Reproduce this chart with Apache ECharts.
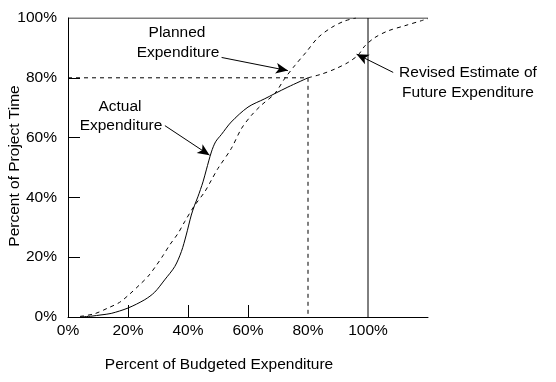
<!DOCTYPE html>
<html>
<head>
<meta charset="utf-8">
<script src="https://cdn.jsdelivr.net/npm/echarts@6/dist/echarts.min.js"></script>
<style>
html,body{margin:0;padding:0;background:#fff;}
#c{width:556px;height:382px;}
</style>
</head>
<body>
<div id="c"></div>
<script>
// ---- data (percent of budgeted expenditure, percent of project time) ----
var actualExpenditure = [[4,0],[8,0.3],[11,0.7],[14.4,1.2],[20,3],[25.6,5.8],[28.9,8.3],[32.2,12.4],[35.6,16.9],[37.8,21.9],[39.4,27.4],[41.1,34.1],[42.2,37.4],[43.3,40.2],[45,45.2],[46.1,49.2],[47.8,55.2],[49.2,58.6],[51.1,61],[54.4,65.2],[60,70.2],[65.6,73],[68.9,74.7],[73.3,76.9],[80,80]];
var plannedExpenditure = [[4,0.2],[8.9,1.1],[13.3,3],[17.2,4.9],[20.6,7.7],[23.9,10.8],[26.7,13.6],[29.4,17.2],[31.7,20.6],[33.9,24.1],[36.7,28],[38.9,31.9],[42,37],[45.6,41.9],[47.8,45.8],[50,49.7],[54.4,56.3],[57.8,63],[61.1,67.4],[64.4,70.8],[68.9,74.7],[72.2,79.7],[75.6,84.1],[79.4,88.6],[83.3,93.4],[87.8,96.8],[92.2,99],[96,100]];
var revisedEstimate = [[80,80],[84.4,81.2],[88.9,82.9],[93.3,85.1],[96.7,87.6],[98.9,90.6],[102.2,93.4],[106.7,95.7],[112.2,97.4],[117.8,99.1],[120,99.8]];
var statusLines = [[0,80],[80,80],[80,0]];
var budgetLine = [[100,0],[100,100]];
var topLine = [[0,100],[120,100]];
var xTickLabels = [0,20,40,60,80,100];
var yTickLabels = [0,20,40,60,80,100];
var xTicks = [20,40,60];
var yTicks = [20,40,60,80];
// annotation arrows: [from, to] in data coordinates
var arrowPlanned = [[51.2,86.8],[73.3,82.4]];
var arrowActual = [[32.3,64],[47.2,54.1]];
var arrowRevised = [[108.4,81.8],[96.2,87.9]];

var FONT = 'Liberation Sans, Arial, sans-serif';
var FS = 15.5;
var chart = echarts.init(document.getElementById('c'), null, {renderer:'canvas'});

function arrowML(a){
  return [{coord:a[0]},{coord:a[1]}];
}
function txt(str, x, y, rot){
  var o = {type:'text', x:x, y:y, silent:true,
    style:{text:str, fill:'#000', font: FS+'px '+FONT, align:'center', verticalAlign:'middle'}};
  if (rot) { o.rotation = rot; }
  return o;
}

var option = {
  animation:false,
  backgroundColor:'#fff',
  grid:{left:68, top:18, width:360, height:299, containLabel:false},
  xAxis:{
    type:'value', min:0, max:120, interval:20,
    axisLine:{show:true, onZero:false, lineStyle:{color:'#000', width:1}},
    axisTick:{show:true, inside:true, length:12, customValues:xTicks, lineStyle:{color:'#000'}},
    axisLabel:{show:true, customValues:xTickLabels, margin:6, color:'#000', fontFamily:FONT, fontSize:FS,
      formatter:function(v){return v+'%';}},
    splitLine:{show:false}
  },
  yAxis:{
    type:'value', min:0, max:100, interval:20,
    axisLine:{show:true, onZero:false, lineStyle:{color:'#000', width:1}},
    axisTick:{show:true, inside:true, length:12, customValues:yTicks, lineStyle:{color:'#000'}},
    axisLabel:{show:true, customValues:yTickLabels, margin:11, color:'#000', fontFamily:FONT, fontSize:FS,
      formatter:function(v){return v+'%';}},
    splitLine:{show:false}
  },
  series:[
    {type:'line', data:topLine, symbol:'none', lineStyle:{color:'#000', width:1}, silent:true},
    {type:'line', data:budgetLine, symbol:'none', lineStyle:{color:'#000', width:1}, silent:true},
    {type:'line', data:statusLines, symbol:'none', lineStyle:{color:'#000', width:1, type:[4,4]}, silent:true},
    {type:'line', data:actualExpenditure, symbol:'none', smooth:0.3, lineStyle:{color:'#000', width:1}, silent:true},
    {type:'line', data:plannedExpenditure, symbol:'none', smooth:0.3, lineStyle:{color:'#000', width:1, type:[4,4]}, silent:true},
    {type:'line', data:revisedEstimate, symbol:'none', smooth:0.3, lineStyle:{color:'#000', width:1, type:[4,4]}, silent:true,
      markLine:{
        silent:true, animation:false,
        symbol:['none','arrow'], symbolSize:[8,12],
        label:{show:false},
        lineStyle:{color:'#000', width:1, type:'solid'},
        data:[arrowML(arrowPlanned), arrowML(arrowActual), arrowML(arrowRevised)]
      }}
  ],
  graphic:[
    txt('Planned', 177, 33),
    txt('Expenditure', 178, 53),
    txt('Actual', 120, 107),
    txt('Expenditure', 121, 126),
    txt('Revised Estimate of', 468, 73),
    txt('Future Expenditure', 468, 93),
    txt('Percent of Budgeted Expenditure', 219, 365),
    txt('Percent of Project Time', 15, 166, Math.PI/2)
  ]
};
chart.setOption(option);
</script>
</body>
</html>
